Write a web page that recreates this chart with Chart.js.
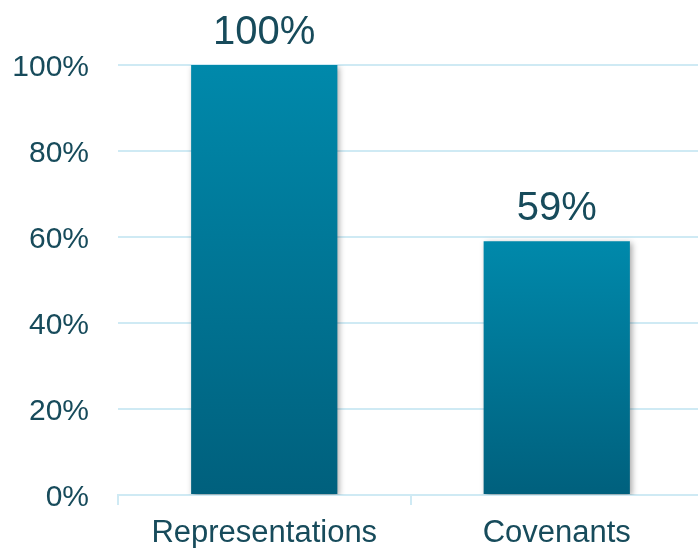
<!DOCTYPE html>
<html>
<head>
<meta charset="utf-8">
<script src="https://cdn.jsdelivr.net/npm/chart.js@4"></script>
<style>
  html, body { margin: 0; padding: 0; background: #fff; overflow: hidden; }
  #wrap { width: 698px; height: 548px; overflow: hidden; }
  #barChart { display: block; }
</style>
</head>
<body>
<div id="wrap"><canvas id="barChart" width="703" height="548"></canvas></div>
<script>
const categories = ["Representations", "Covenants"];
const shares = [100, 59];
const yTicks = [0, 20, 40, 60, 80, 100];

const TEXT = "#174b5b";
const GRID = "#cfeaf4";

// gradient per bar, bright teal at the top fading darker to the base
function barFill(context) {
  const chart = context.chart;
  const y = chart.scales.y;
  if (!chart.chartArea || !y) return "#007799";
  const top = y.getPixelForValue(context.raw);
  const bottom = y.getPixelForValue(0);
  const g = chart.ctx.createLinearGradient(0, top, 0, bottom);
  g.addColorStop(0, "#0089ab");
  g.addColorStop(1, "#00607d");
  return g;
}

const barShadow = {
  id: "barShadow",
  beforeDatasetDraw(chart) {
    const ctx = chart.ctx;
    ctx.save();
    ctx.shadowColor = "rgba(0,0,0,0.35)";
    ctx.shadowBlur = 6;
    ctx.shadowOffsetX = 2;
    ctx.shadowOffsetY = 2;
  },
  afterDatasetDraw(chart) {
    chart.ctx.restore();
  }
};

const valueLabels = {
  id: "valueLabels",
  afterDatasetsDraw(chart) {
    const ctx = chart.ctx;
    const meta = chart.getDatasetMeta(0);
    ctx.save();
    ctx.font = "40px 'Liberation Sans', Arial, sans-serif";
    ctx.fillStyle = TEXT;
    ctx.textAlign = "center";
    ctx.textBaseline = "alphabetic";
    meta.data.forEach((bar, i) => {
      ctx.fillText(shares[i] + "%", bar.x, bar.y - 21);
    });
    ctx.restore();
  }
};

new Chart(document.getElementById("barChart"), {
  type: "bar",
  data: {
    labels: categories,
    datasets: [{
      data: shares,
      backgroundColor: barFill,
      borderWidth: 0,
      barPercentage: 0.5,
      categoryPercentage: 1
    }]
  },
  options: {
    responsive: false,
    animation: false,
    events: [],
    layout: { padding: { top: 65, right: 0, bottom: 0, left: 0 } },
    plugins: { legend: { display: false }, tooltip: { enabled: false } },
    scales: {
      x: {
        offset: true,
        afterFit: s => { s.height = 53; },
        border: { display: true, color: GRID, width: 2 },
        grid: { offset: true, drawOnChartArea: false, drawTicks: true, tickLength: 10, color: GRID, lineWidth: 2 },
        ticks: { color: TEXT, padding: 10, font: { family: "'Liberation Sans', Arial, sans-serif", size: 31 } }
      },
      y: {
        min: 0,
        max: 100,
        afterFit: s => { s.width = 118; },
        afterBuildTicks: s => { s.ticks = yTicks.map(v => ({ value: v })); },
        border: { display: false },
        grid: { color: GRID, lineWidth: 2, drawTicks: false },
        ticks: {
          color: TEXT,
          padding: 29,
          labelOffset: 3,
          font: { family: "'Liberation Sans', Arial, sans-serif", size: 30 },
          callback: v => v + "%"
        }
      }
    }
  },
  plugins: [barShadow, valueLabels]
});
</script>
</body>
</html>
